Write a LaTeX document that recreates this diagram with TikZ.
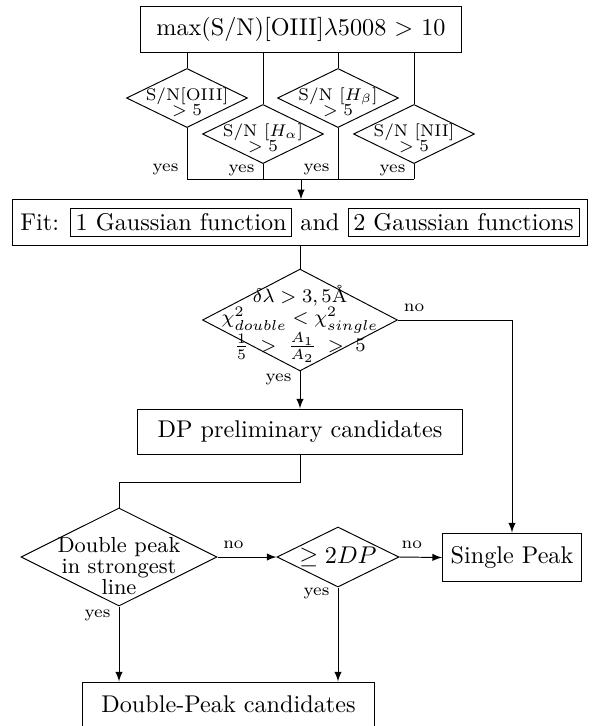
\documentclass[tikz,border=0pt]{standalone}
\usetikzlibrary{shapes.geometric}

\tikzset{
    box/.style={draw, rectangle, inner sep=3.33pt},
    choice/.style={draw, diamond, inner sep=0pt},
    dtext/.style={font=\scriptsize, align=center},
    lbl/.style={font=\scriptsize},
}
\setlength{\fboxsep}{2pt}

\begin{document}
\begin{tikzpicture}[x=0.4132pt, y=-0.4132pt, >=latex]
    \useasboundingbox (0,0) rectangle (600,726);

    \node[box, minimum width=133pt, minimum height=19pt] (top) at (301,29) {max(S/N)[OIII]$\lambda$5008 $>$ 10};

    \node[choice, minimum width=50pt, minimum height=24.4pt, label={[dtext, yshift=-1.6pt]center:{S/N[OIII]\\[-1.8pt]$>5$}}] (oiii) at (187,98) {};
    \node[choice, minimum width=50pt, minimum height=24.4pt, label={[dtext, yshift=-1.6pt]center:{S/N [$H_\alpha$]\\[-1.8pt]$>5$}}] (ha) at (263,134) {};
    \node[choice, minimum width=50pt, minimum height=24.4pt, label={[dtext, yshift=-1.6pt]center:{S/N [$H_\beta$]\\[-1.8pt]$>5$}}] (hb) at (338,98) {};
    \node[choice, minimum width=50pt, minimum height=24.4pt, label={[dtext, yshift=-1.6pt]center:{S/N [NII]\\[-1.8pt]$>5$}}] (nii) at (414,134) {};

    \coordinate (join) at (301,179);

    \node[box] (fit) at (300,222.5) {Fit: \fbox{1 Gaussian function} and \fbox{2 Gaussian functions}};

    \node[choice, minimum width=80.6pt, minimum height=42.1pt, label={[dtext, font=\footnotesize, yshift=-1.5pt]center:{$\delta\lambda > 3,5$\AA\\[-0.9pt]$\chi^2_{double} < \chi^2_{single}$\\[-1.2pt]$\frac{1}{5} \;>\; \frac{A_1}{A_2} \;>\; 5$}}] (crit) at (300,320) {};

    \node[box, minimum width=134pt, minimum height=18.6pt] (dp) at (300,431.5) {DP preliminary candidates};
    \coordinate (bend) at (300,482);

    \node[choice, minimum width=81pt, minimum height=40.5pt, label={[dtext, font=\small, yshift=-3.7pt]center:{Double peak\\[-2.3pt]in strongest\\[-2.3pt]line}}] (dbl) at (119,557) {};
    \node[choice, minimum width=50.4pt, minimum height=24.8pt, label=center:{$\geq 2DP$}] (two) at (338,557) {};
    \node[box, minimum width=56.2pt, minimum height=20.2pt] (single) at (512,557.5) {Single Peak};

    \node[box, minimum width=121pt, minimum height=18.6pt] (dpc) at (228.5,704.5) {Double-Peak candidates};

    % signal to noise checks
    \draw (top.south -| oiii.north) -- (oiii.north);
    \draw (top.south -| ha.north) -- (ha.north);
    \draw (top.south -| hb.north) -- (hb.north);
    \draw (top.south -| nii.north) -- (nii.north);

    \draw (oiii.south) -- node[lbl, left, pos=0.82] {yes} (oiii.south |- join);
    \draw (ha.south) -- node[lbl, left, pos=0.4] {yes} (ha.south |- join);
    \draw (hb.south) -- node[lbl, left, pos=0.82] {yes} (hb.south |- join);
    \draw (nii.south) -- node[lbl, left, pos=0.4] {yes} (nii.south |- join);
    \draw (oiii.south |- join) -- (nii.south |- join);
    \draw[->] (join) -- (join |- fit.north);

    % fit and selection
    \draw (fit.south) -- (crit.north);
    \draw[->] (crit.south) -- node[lbl, left, pos=0.21] {yes} (dp.north);
    \draw[->] (crit.east) -| node[lbl, above, pos=0.07] {no} (single.north);

    \draw (dp.south) -- (bend) -| (dbl.north);
    \draw[->] (dbl.east) -- node[lbl, above, pos=0.27] {no} (two.west);
    \draw[->] (two.east) -- node[lbl, above, pos=0.29] {no} (single.west);
    \draw[->] (dbl.south) -- node[lbl, left, pos=0.12] {yes} (dbl.south |- dpc.north);
    \draw[->] (two.south) -- node[lbl, left, pos=0.06] {yes} (two.south |- dpc.north);
\end{tikzpicture}
\end{document}
